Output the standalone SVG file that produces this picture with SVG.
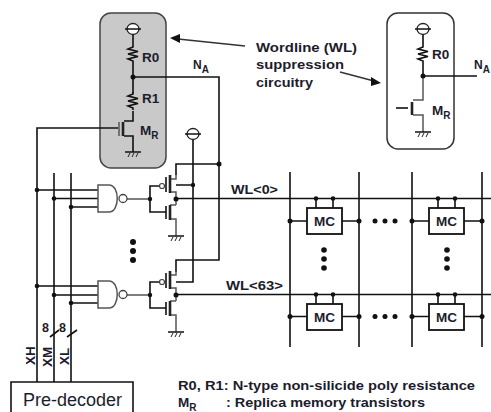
<svg xmlns="http://www.w3.org/2000/svg" width="491" height="412" viewBox="0 0 491 412">
<style>
.w{fill:none;stroke:#111;stroke-width:1.6}
.g{fill:none;stroke:#555;stroke-width:1.5}
.t{fill:none;stroke:#222;stroke-width:2.6}
.d{fill:#111}
text{font-family:"Liberation Sans",Arial,sans-serif;font-weight:bold;fill:#1c1c2c}
.l{font-size:13.5px}
.s{font-size:10px}
.n{font-size:12px}
.k{font-size:12.5px}
.mc{fill:#fff;stroke:#111;stroke-width:1.8}
</style>
<defs>
<g id="vdd"><ellipse cx="0" cy="0" rx="6" ry="5.5" fill="#fff" stroke="#222" stroke-width="1.3"/><path d="M-8 0H8" stroke="#111" stroke-width="1.5"/></g>
<g id="gnd"><path d="M-8 0H8" stroke="#111" stroke-width="1.5"/><path d="M-5 5L-3 1M-1 5L1 1M3 5L5 1" stroke="#222" stroke-width="1"/></g>
<path id="res" class="w" d="M0 0V2L-5 4L5 6.5L-5 9L5 11.500L-5 14L0 16V18"/>
<g id="nand"><path d="M0 0H11C22 0 22 27 11 27H0Z" fill="#fff" stroke="#555" stroke-width="1.500"/><circle cx="25" cy="13.500" r="4" fill="#fff" stroke="#444" stroke-width="1.300"/></g>
<g id="cell"><path class="w" d="M9 -9.500V0M26 -9.500V0"/><rect class="mc" width="35" height="26"/><text x="17.500" y="18" text-anchor="middle" class="l">MC</text><circle class="d" cx="9" cy="-9.500" r="2.300"/><circle class="d" cx="26" cy="-9.500" r="2.300"/></g>
<g id="driver">
<path class="g" d="M176 175V179H170M170 192H176V199M176 205V199M170 205H176M170 219H176V236"/>
<path class="t" d="M170 175V193M170 205V220"/>
<path class="w" d="M166 177V192M166 206V219M150 199V186H159M150 199V212H166"/>
<circle cx="162" cy="186" r="2.500" fill="#fff" stroke="#444" stroke-width="1.200"/>
<circle class="d" cx="150" cy="199" r="2.200"/><circle class="d" cx="176" cy="199" r="2.500"/>
<use href="#gnd" x="176" y="236"/>
</g>
</defs>

<g id="wl-suppression-left">
<rect x="100" y="13" width="66" height="155" rx="11" fill="#c9c9c9" stroke="#444" stroke-width="1.500"/>
<use href="#vdd" x="133" y="29"/>
<path class="w" d="M133 35V45M133 63V93M133 111V121H124M124 136H133V152"/>
<use href="#res" x="133" y="45"/><use href="#res" x="133" y="92"/>
<path class="t" d="M123 122V136"/><path class="g" d="M119 122V136"/>
<use href="#gnd" x="133" y="152"/>
<circle class="d" cx="133" cy="77" r="2.500"/>
<text x="142" y="61.500" class="l">R0</text><text x="142" y="103" class="l">R1</text>
<text x="140" y="135" class="l">M<tspan class="s" dy="4">R</tspan></text>
</g>

<g id="wl-suppression-right">
<rect x="387" y="13" width="67" height="136" rx="11" fill="#fff" stroke="#333" stroke-width="1.500"/>
<use href="#vdd" x="423" y="29"/>
<path class="w" d="M423 35V45M423 63V76"/>
<use href="#res" x="423" y="45"/>
<path class="g" d="M423 76V100H413M413 115H423V132"/>
<path class="t" d="M412 102V115" stroke="#666"/>
<path class="w" d="M396 108H408"/>
<use href="#gnd" x="423" y="132"/>
<circle class="d" cx="423" cy="76" r="2.500"/>
<text x="432" y="59" class="l">R0</text>
<text x="432" y="115" class="l">M<tspan class="s" dy="4">R</tspan></text>
</g>

<g id="connectors">
<path class="w" d="M133 77H219V260H176V272M176 175V164H219"/>
<path class="w" d="M423 76H477"/>
<path class="w" d="M118 128H37V382M54 173V382M71 173V382"/>
<path class="w" d="M193 140V282H176M176 185H193"/>
<path class="w" d="M37 190H98M54 198.500H98M71 207H98M37 286H98M54 295H98M71 303H98"/>
<path class="g" d="M127 199H150M127 295H150"/>
<path class="w" d="M176 198.500H491M176 294.500H491"/>
<path class="w" d="M290 172V347M359 172V347M412 172V347M482 172V347"/>
<path class="w" d="M290 221H307M342 221H359M412 221H429M464 221H482M290 316.500H307M342 316.500H359M412 316.500H429M464 316.500H482"/>
<path class="w" d="M50 337L59 330M67 337L77 330"/>
<path d="M245 46L178 39" stroke="#333" stroke-width="1.500"/><path d="M170 38L180 34V43Z" fill="#111"/>
<path d="M340 72L374 81" stroke="#333" stroke-width="1.500"/><path d="M381 83L371 86V77Z" fill="#111"/>
<g class="d">
<circle cx="219" cy="164" r="2.500"/><circle cx="193" cy="185" r="2.200"/>
<circle cx="37" cy="190" r="2.300"/><circle cx="54" cy="198.500" r="2.300"/><circle cx="71" cy="207" r="2.300"/>
<circle cx="37" cy="286" r="2.300"/><circle cx="54" cy="295" r="2.300"/><circle cx="71" cy="303" r="2.300"/>
<circle cx="290" cy="221" r="2.500"/><circle cx="359" cy="221" r="2.500"/><circle cx="412" cy="221" r="2.500"/><circle cx="482" cy="221" r="2.500"/>
<circle cx="290" cy="316.500" r="2.500"/><circle cx="359" cy="316.500" r="2.500"/><circle cx="412" cy="316.500" r="2.500"/><circle cx="482" cy="316.500" r="2.500"/>
</g>
</g>

<g id="nand-0"><use href="#nand" x="98" y="185"/></g>
<g id="nand-63"><use href="#nand" x="98" y="281"/></g>
<g id="driver-0"><use href="#driver"/></g>
<g id="driver-63"><use href="#driver" y="96"/></g>
<g id="vdd-driver"><use href="#vdd" x="193" y="134"/></g>

<g id="mc-0-0"><use href="#cell" x="307" y="208"/></g>
<g id="mc-0-n"><use href="#cell" x="429" y="208"/></g>
<g id="mc-63-0"><use href="#cell" x="307" y="304"/></g>
<g id="mc-63-n"><use href="#cell" x="429" y="304"/></g>

<g id="ellipses" class="d">
<circle cx="133" cy="242" r="3"/><circle cx="133" cy="251" r="3"/><circle cx="133" cy="260" r="3"/>
<circle cx="324" cy="250" r="2.800"/><circle cx="324" cy="259" r="2.800"/><circle cx="324" cy="268" r="2.800"/>
<circle cx="447" cy="250" r="2.800"/><circle cx="447" cy="259" r="2.800"/><circle cx="447" cy="268" r="2.800"/>
<circle cx="375" cy="221" r="2.500"/><circle cx="385" cy="221" r="2.500"/><circle cx="395" cy="221" r="2.500"/>
<circle cx="375" cy="316.500" r="2.500"/><circle cx="385" cy="316.500" r="2.500"/><circle cx="395" cy="316.500" r="2.500"/>
</g>

<g id="predecoder">
<path d="M11 412V382H133V412" fill="#fff" stroke="#111" stroke-width="1.600"/>
<text x="23" y="406" style="font-size:18px;font-weight:normal">Pre-decoder</text>
</g>

<g id="labels">
<text x="193" y="69" class="n">N<tspan class="s" dy="4">A</tspan></text>
<text x="474" y="69" class="n">N<tspan class="s" dy="4">A</tspan></text>
<text x="256" y="51.500" class="k" textLength="101" lengthAdjust="spacingAndGlyphs">Wordline (WL)</text>
<text x="256" y="69" class="k" textLength="88" lengthAdjust="spacingAndGlyphs">suppression</text>
<text x="256" y="86.500" class="k" textLength="57" lengthAdjust="spacingAndGlyphs">circuitry</text>
<text x="231" y="194" class="n" textLength="47" lengthAdjust="spacingAndGlyphs">WL&lt;0&gt;</text>
<text x="226" y="290" class="n" textLength="57" lengthAdjust="spacingAndGlyphs">WL&lt;63&gt;</text>
<text x="42" y="332" class="k">8</text>
<text x="59" y="332" class="k">8</text>
<text transform="translate(35 365) rotate(-90)" class="l">XH</text>
<text transform="translate(52 367) rotate(-90)" class="l">XM</text>
<text transform="translate(69 365) rotate(-90)" class="l">XL</text>
<text x="178" y="390" class="k" textLength="297" lengthAdjust="spacingAndGlyphs">R0, R1: N-type non-silicide poly resistance</text>
<text x="178" y="406.500" class="l">M<tspan class="s" dy="4">R</tspan></text>
<text x="226" y="406.500" class="k" textLength="199" lengthAdjust="spacingAndGlyphs">: Replica memory transistors</text>
</g>
</svg>
